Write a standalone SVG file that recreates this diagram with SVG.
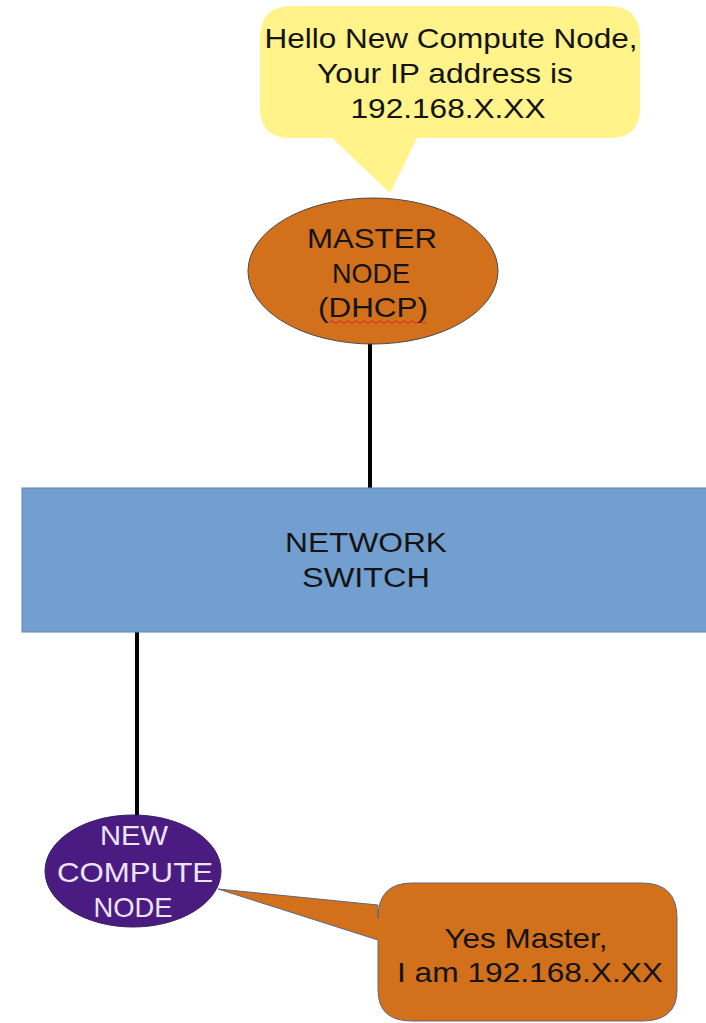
<svg xmlns="http://www.w3.org/2000/svg" width="706" height="1023" viewBox="0 0 706 1023">
<style>
.t{font-family:"Liberation Sans",Arial,sans-serif;font-size:28px;text-anchor:middle;fill:#141414}
.w{fill:#ece4f6}
.conn{stroke:#000;stroke-width:4;fill:none}
</style>
<rect width="706" height="1023" fill="#fff"/>
<g id="connectors">
<line class="conn" x1="370" y1="340" x2="370" y2="489"/>
<line class="conn" x1="137" y1="631" x2="137" y2="818"/>
</g>
<g id="callout-master">
<path d="M292,6 H608 Q640,6 640,38 V108 Q640,138 610,138 H417 L390,193 L332,138 H290 Q260,138 260,108 V38 Q260,6 292,6 Z" fill="#fff38a"/>
<text class="t" x="451" y="48" textLength="373" lengthAdjust="spacingAndGlyphs">Hello New Compute Node,</text>
<text class="t" x="445" y="83" textLength="256" lengthAdjust="spacingAndGlyphs">Your IP address is</text>
<text class="t" x="448" y="118" textLength="195" lengthAdjust="spacingAndGlyphs">192.168.X.XX</text>
</g>
<g id="master-node">
<ellipse cx="373" cy="271" rx="125" ry="73" fill="#d2701b" stroke="#4a4a4a" stroke-width="1"/>
<text class="t" x="372" y="248" textLength="130" lengthAdjust="spacingAndGlyphs">MASTER</text>
<text class="t" x="371" y="283" textLength="78" lengthAdjust="spacingAndGlyphs">NODE</text>
<text class="t" x="373" y="317" textLength="110" lengthAdjust="spacingAndGlyphs">(DHCP)</text>
<path d="M330,322 q2,-2.5 4,0 t4,0 t4,0 t4,0 t4,0 t4,0 t4,0 t4,0 t4,0 t4,0 t4,0 t4,0 t4,0 t4,0 t4,0 t4,0 t4,0 t4,0 t4,0 t4,0 t4,0 t4,0 t4,0 t4,0" fill="none" stroke="#e02020" stroke-width="1"/>
</g>
<g id="network-switch">
<rect x="22" y="488" width="690" height="144" fill="#729fcf" stroke="#5a86b8" stroke-width="1"/>
<text class="t" x="366" y="552" textLength="162" lengthAdjust="spacingAndGlyphs">NETWORK</text>
<text class="t" x="366" y="587" textLength="128" lengthAdjust="spacingAndGlyphs">SWITCH</text>
</g>
<g id="new-compute-node">
<ellipse cx="133" cy="871" rx="88" ry="56" fill="#4a1c82" stroke="#33205a" stroke-width="1"/>
<text class="t w" x="134" y="845" textLength="68" lengthAdjust="spacingAndGlyphs">NEW</text>
<text class="t w" x="135" y="882" textLength="156" lengthAdjust="spacingAndGlyphs">COMPUTE</text>
<text class="t w" x="133" y="917" textLength="79" lengthAdjust="spacingAndGlyphs">NODE</text>
</g>
<g id="callout-compute">
<path d="M412,883 H642 Q677,883 677,918 V990 Q677,1021 642,1021 H412 Q378,1021 378,990 V940 L218,889 L378,905 V918 Q378,883 412,883 Z" fill="#d2701b" stroke="#5a6a80" stroke-width="1"/>
<text class="t" x="526" y="948" textLength="163" lengthAdjust="spacingAndGlyphs">Yes Master,</text>
<text class="t" x="530" y="982" textLength="266" lengthAdjust="spacingAndGlyphs">I am 192.168.X.XX</text>
</g>
</svg>
